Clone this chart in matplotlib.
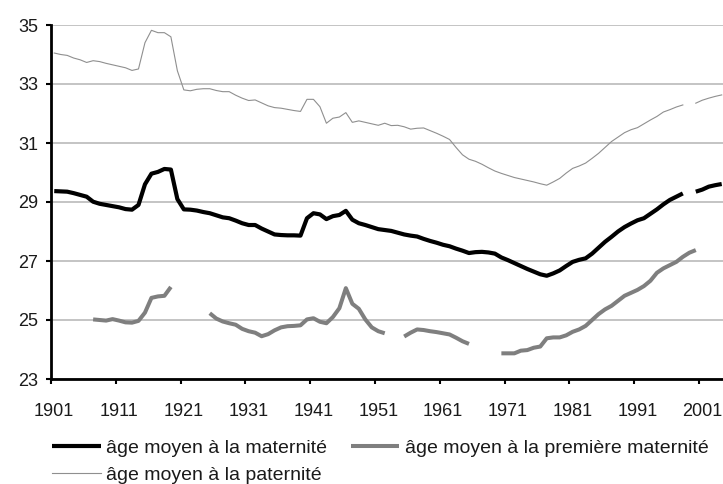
import numpy as np
import matplotlib
matplotlib.use("Agg")
import matplotlib.pyplot as plt
from matplotlib.ticker import FixedLocator, NullFormatter

plt.rcParams['font.family'] = ['Liberation Sans', 'DejaVu Sans']

nan = np.nan
years = np.arange(1901, 2005)

# âge moyen à la maternité
mat = [29.37, 29.36, 29.35, 29.30, 29.24, 29.18, 29.01, 28.94, 28.90, 28.86,
       28.82, 28.76, 28.74, 28.90, 29.60, 29.96, 30.02, 30.12, 30.10, 29.10,
       28.75, 28.74, 28.71, 28.66, 28.62, 28.55, 28.48, 28.45, 28.37, 28.28,
       28.22, 28.22, 28.10, 28.00, 27.90, 27.88, 27.87, 27.87, 27.86, 28.45,
       28.62, 28.58, 28.42, 28.52, 28.56, 28.70, 28.40, 28.28, 28.22, 28.15,
       28.08, 28.05, 28.02, 27.96, 27.90, 27.86, 27.83, 27.75, 27.68, 27.62,
       27.55, 27.50, 27.42, 27.35, 27.27, 27.30, 27.31, 27.29, 27.25, 27.12,
       27.03, 26.93, 26.83, 26.73, 26.64, 26.55, 26.50, 26.58, 26.68, 26.83,
       26.97, 27.04, 27.09, 27.25, 27.45, 27.65, 27.82, 28.00, 28.15, 28.27,
       28.38, 28.45, 28.60, 28.75, 28.92, 29.07, 29.18, 29.29, nan, 29.35,
       29.42, 29.52, 29.57, 29.61]

# âge moyen à la première maternité
first = [nan, nan, nan, nan, nan, nan, 25.02, 25.00, 24.98, 25.03,
         24.98, 24.92, 24.91, 24.97, 25.25, 25.75, 25.80, 25.82, 26.12, nan,
         nan, nan, nan, nan, 25.23, 25.05, 24.95, 24.89, 24.84, 24.70,
         24.62, 24.57, 24.45, 24.52, 24.65, 24.75, 24.79, 24.80, 24.82, 25.02,
         25.06, 24.94, 24.89, 25.10, 25.40, 26.08, 25.55, 25.38, 25.02, 24.75,
         24.62, 24.55, nan, nan, 24.44, 24.57, 24.68, 24.66, 24.62, 24.59,
         24.55, 24.51, 24.40, 24.28, 24.19, nan, nan, nan, nan, 23.87,
         23.87, 23.87, 23.96, 23.98, 24.06, 24.10, 24.38, 24.41, 24.41, 24.48,
         24.60, 24.68, 24.80, 25.00, 25.20, 25.36, 25.48, 25.65, 25.82, 25.92,
         26.02, 26.15, 26.33, 26.60, 26.75, 26.86, 26.97, 27.14, 27.28, 27.37,
         nan, nan, nan, nan]

# âge moyen à la paternité
pat = [34.05, 34.00, 33.97, 33.88, 33.82, 33.73, 33.79, 33.76, 33.70, 33.65,
       33.60, 33.55, 33.46, 33.51, 34.40, 34.82, 34.74, 34.74, 34.60, 33.45,
       32.80, 32.77, 32.82, 32.84, 32.84, 32.78, 32.74, 32.74, 32.62, 32.52,
       32.44, 32.46, 32.36, 32.26, 32.20, 32.18, 32.14, 32.10, 32.07, 32.48,
       32.48, 32.23, 31.67, 31.84, 31.88, 32.03, 31.70, 31.75, 31.70, 31.65,
       31.60, 31.67, 31.59, 31.60, 31.55, 31.47, 31.50, 31.51, 31.42, 31.33,
       31.23, 31.12, 30.85, 30.60, 30.45, 30.38, 30.28, 30.16, 30.05, 29.97,
       29.90, 29.83, 29.78, 29.73, 29.68, 29.62, 29.57, 29.68, 29.80, 29.98,
       30.14, 30.22, 30.32, 30.48, 30.65, 30.85, 31.05, 31.20, 31.35, 31.45,
       31.52, 31.65, 31.78, 31.90, 32.05, 32.13, 32.22, 32.29, nan, 32.35,
       32.45, 32.52, 32.58, 32.63]

label_years = list(range(1901, 2002, 10))
y_ticks = [23, 25, 27, 29, 31, 33, 35]

fig = plt.figure(figsize=(7.23, 4.84), dpi=100)
ax = fig.add_axes([51/723, 1-379/484, 672/723, 354/484])

l_mat, = ax.plot(years, np.array(mat, float), color='black', lw=3.0,
                 solid_capstyle='butt', zorder=4)
l_first, = ax.plot(years, np.array(first, float), color='#7f7f7f', lw=2.9,
                   solid_capstyle='butt', zorder=3)
l_pat, = ax.plot(years, np.array(pat, float), color='#8f8f8f', lw=0.8, zorder=3)

ax.set_xlim(1900.5, 2004.2)
ax.set_ylim(23, 35)

# ticks at category boundaries, labels centred on the year
ax.xaxis.set_major_locator(FixedLocator([y - 0.5 for y in label_years]))
ax.xaxis.set_major_formatter(NullFormatter())
ax.xaxis.set_minor_locator(FixedLocator(label_years))
ax.set_xticklabels([str(y) for y in label_years], minor=True)
ax.tick_params(axis='x', which='major', direction='out', length=3.6, width=1.5)
ax.tick_params(axis='x', which='minor', length=0, pad=17, labelsize=13, colors='#1a1a1a')

ax.set_yticks(y_ticks)
ax.tick_params(axis='y', direction='out', length=3.6, width=1.5, pad=5.5,
               labelsize=13, colors='#1a1a1a')
ax.tick_params(axis='both', which='both', color='black')

ax.yaxis.grid(True, color='#b4b4b4', lw=1.1)
ax.set_axisbelow(True)
for s in ['top', 'right']:
    ax.spines[s].set_visible(False)
for s in ['left', 'bottom']:
    ax.spines[s].set_linewidth(2)
    ax.spines[s].set_color('black')

fig.legend([l_mat, l_pat, l_first],
           ['âge moyen à la maternité', 'âge moyen à la paternité',
            'âge moyen à la première maternité'],
           ncol=2, loc='upper left', bbox_to_anchor=(52/723, 1-439/484),
           frameon=False, fontsize=14, handlelength=2.5, handletextpad=0.3,
           columnspacing=1.2, labelspacing=0.5, borderpad=0, borderaxespad=0,
           labelcolor='#1a1a1a')

fig.savefig('out.png', dpi=100)
